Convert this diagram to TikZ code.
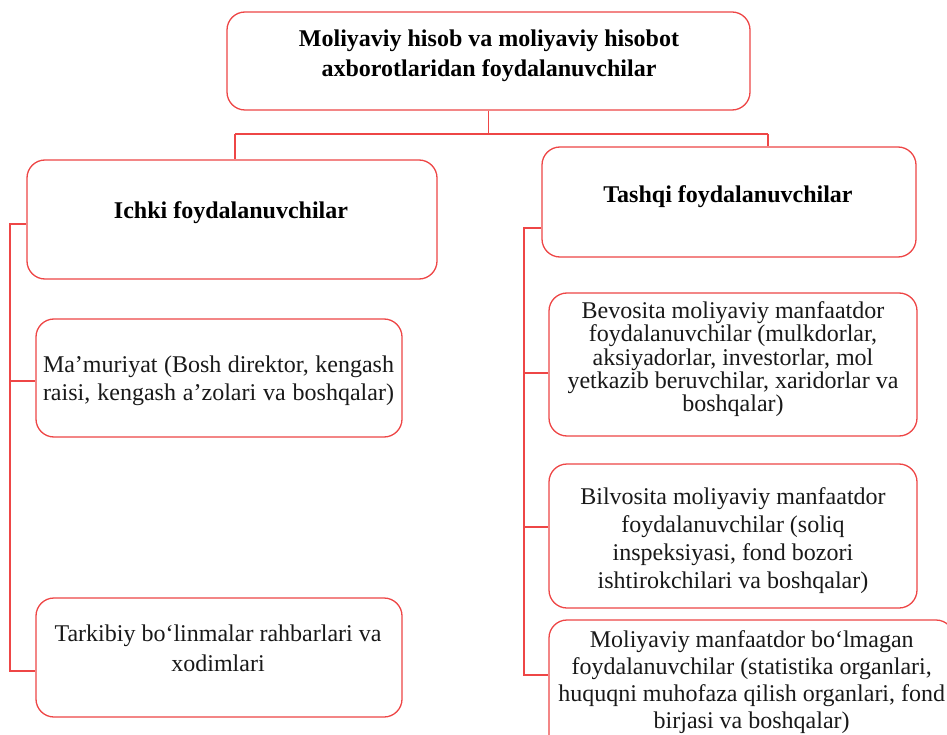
\documentclass[tikz,border=0pt]{standalone}
\usepackage{fontspec}
\setmainfont{Liberation Serif}
\definecolor{boxred}{RGB}{238,70,70}
\definecolor{txtgray}{RGB}{25,25,25}
\begin{document}
\begin{tikzpicture}[x=1pt,y=-1pt,
  ubox/.style={draw=boxred,line width=1.3pt,rounded corners=18pt,rectangle,inner sep=0pt,fill=none},
  conn/.style={draw=boxred,line width=1.3pt},
  btxt/.style={inner sep=0pt,anchor=base,text=black,font=\bfseries},
  ntxt/.style={inner sep=0pt,anchor=base,text=txtgray}]
\useasboundingbox (0,0) rectangle (947,735);
\clip (0,0) rectangle (947,735);
\fill[white] (0,0) rectangle (947,735);

% boxes
\node[ubox,minimum width=523pt,minimum height=98pt] (top) at (488.5,61) {};
\node[ubox,minimum width=410pt,minimum height=119pt] (ichki) at (232,219.5) {};
\node[ubox,minimum width=374pt,minimum height=110pt] (tashqi) at (729,202) {};
\node[ubox,minimum width=366pt,minimum height=118pt] (mam) at (219,378) {};
\node[ubox,minimum width=366pt,minimum height=119pt] (tark) at (219,657.5) {};
\node[ubox,minimum width=368pt,minimum height=143pt] (bev) at (733,364.5) {};
\node[ubox,minimum width=368pt,minimum height=144pt] (bil) at (733,536) {};
\node[ubox,minimum width=405pt,minimum height=140pt] (mol) at (751.5,690) {};

% texts
\node[btxt] (ttop) at (489,46.5) {\fontsize{24}{30}\selectfont\begin{tabular}[t]{@{}c@{}}Moliyaviy hisob va moliyaviy hisobot\\axborotlaridan foydalanuvchilar\end{tabular}};
\node[btxt] (tichki) at (231,219) {\fontsize{24}{28}\selectfont Ichki foydalanuvchilar};
\node[btxt] (ttashqi) at (728,202.5) {\fontsize{24}{28}\selectfont Tashqi foydalanuvchilar};
\node[ntxt] (tmam) at (218.5,372.7) {\fontsize{24}{27.3}\selectfont\begin{tabular}[t]{@{}c@{}}\makebox[351pt][s]{Ma’muriyat (Bosh direktor, kengash}\\\makebox[351pt][s]{raisi, kengash a’zolari va boshqalar)}\end{tabular}};
\node[ntxt] (ttark) at (218,641.7) {\fontsize{24}{30}\selectfont\begin{tabular}[t]{@{}c@{}}Tarkibiy bo‘linmalar rahbarlari va\\xodimlari\end{tabular}};
\node[ntxt] (tbev) at (733,318.3) {\fontsize{24}{22.1}\selectfont\begin{tabular}[t]{@{}c@{}}Bevosita moliyaviy manfaatdor\\foydalanuvchilar (mulkdorlar,\\aksiyadorlar, investorlar, mol\\yetkazib beruvchilar, xaridorlar va\\boshqalar)\end{tabular}};
\node[ntxt] (tbil) at (733,504.3) {\fontsize{24}{28}\selectfont\begin{tabular}[t]{@{}c@{}}Bilvosita moliyaviy manfaatdor\\foydalanuvchilar (soliq\\inspeksiyasi, fond bozori\\ishtirokchilari va boshqalar)\end{tabular}};
\node[ntxt] (tmol) at (751.7,647.3) {\fontsize{24}{27}\selectfont\begin{tabular}[t]{@{}c@{}}Moliyaviy manfaatdor bo‘lmagan\\foydalanuvchilar (statistika organlari,\\huquqni muhofaza qilish organlari, fond\\birjasi va boshqalar)\end{tabular}};

% top connectors
\coordinate (J) at (488.5,134);
\coordinate (JL) at (235,134);
\coordinate (JR) at (768,134);
\draw[conn] (top.south) -- (J);
\draw[conn] (JL) -- (JR);
\draw[conn] (JL) -- (JL |- ichki.north);
\draw[conn] (JR) -- (JR |- tashqi.north);

% left bracket
\coordinate (LA) at (10,224);
\coordinate (LB) at (10,381);
\coordinate (LC) at (10,671);
\draw[conn] (LA -| ichki.west) -- (LA) -- (LC) -- (LC -| tark.west);
\draw[conn] (LB) -- (LB -| mam.west);

% right bracket
\coordinate (RA) at (524,228);
\coordinate (RB) at (524,373);
\coordinate (RC) at (524,527);
\coordinate (RD) at (524,675);
\draw[conn] (RA -| tashqi.west) -- (RA) -- (RD) -- (RD -| mol.west);
\draw[conn] (RB) -- (RB -| bev.west);
\draw[conn] (RC) -- (RC -| bil.west);
\end{tikzpicture}
\end{document}
